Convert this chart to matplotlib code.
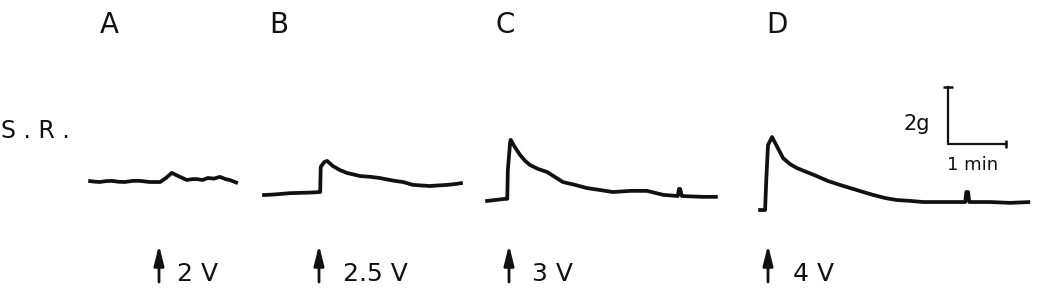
import matplotlib
matplotlib.use("Agg")
import matplotlib.pyplot as plt

# ---------------- data (time in min from stimulus, tension in g above pre-stimulus baseline)
panel_labels = ["A", "B", "C", "D"]
voltage_labels = ["2 V", "2.5 V", "3 V", "4 V"]

A_t = [-1.22, -1.10, -1.02, -0.92, -0.81, -0.70, -0.59, -0.45, -0.33, -0.16, 0.02, 0.12, 0.22, 0.33,
       0.48, 0.57, 0.66, 0.75, 0.84, 0.95, 1.05, 1.15, 1.22, 1.36]
A_g = [0.04, 0.01, 0.00, 0.03, 0.04, 0.01, 0.00, 0.04, 0.04, 0.00, 0.00, 0.14, 0.32, 0.21,
       0.07, 0.10, 0.10, 0.07, 0.14, 0.12, 0.18, 0.10, 0.07, -0.04]

B_t = [-0.98, -0.80, -0.67, -0.50, -0.33, -0.15, 0.02, 0.03, 0.09, 0.14, 0.24, 0.36, 0.48, 0.71,
       0.90, 1.05, 1.20, 1.31, 1.45, 1.62, 1.91, 2.05, 2.21, 2.35, 2.48]
B_g = [-0.04, -0.02, 0.00, 0.03, 0.04, 0.05, 0.07, 0.95, 1.12, 1.16, 0.98, 0.84, 0.74, 0.63,
       0.60, 0.56, 0.50, 0.46, 0.42, 0.32, 0.28, 0.30, 0.32, 0.35, 0.39]

C_t = [-0.41, -0.24, -0.07, -0.03, -0.02, 0.02, 0.03, 0.10, 0.19, 0.28, 0.36, 0.50, 0.66, 0.79,
       0.93, 1.14, 1.34, 1.57, 1.79, 2.09, 2.38, 2.66, 2.91, 2.93, 2.95, 2.98, 3.34, 3.60]
C_g = [-0.04, 0.00, 0.04, 0.04, 1.05, 2.04, 2.11, 1.86, 1.58, 1.37, 1.23, 1.09, 0.98, 0.81,
       0.63, 0.53, 0.42, 0.35, 0.28, 0.32, 0.32, 0.18, 0.14, 0.39, 0.39, 0.14, 0.11, 0.11]

D_t = [-0.17, -0.05, -0.03, 0.00, 0.07, 0.16, 0.26, 0.38, 0.50, 0.67, 0.84, 1.03, 1.24, 1.53,
       1.81, 2.02, 2.22, 2.45, 2.67, 3.05, 3.40, 3.42, 3.45, 3.47, 3.83, 4.17, 4.52]
D_g = [0.00, 0.00, 1.05, 2.28, 2.56, 2.21, 1.82, 1.61, 1.47, 1.33, 1.19, 1.02, 0.88, 0.70,
       0.53, 0.42, 0.35, 0.32, 0.28, 0.28, 0.28, 0.63, 0.63, 0.28, 0.28, 0.25, 0.28]

traces_t = [A_t, B_t, C_t, D_t]
traces_g = [A_g, B_g, C_g, D_g]

scale_g = 2.0      # calibration bar, grams
scale_min = 1.0    # calibration bar, minutes

# ---------------- layout (pixels of the 1037x288 canvas)
W, H = 1037, 288
PX_PER_MIN = 58.0
PX_PER_G = 28.5
panel_left = [60, 250, 478, 738]
panel_right = [250, 478, 738, 1037]
arrow_px = [159, 319, 509, 768]
base_px = [182, 194, 200, 210]
letter_px = [109, 279, 505, 777]
volt_offset_px = [18, 24, 23, 25]
scale_corner = (3.10, 2.32)  # in panel D data coordinates

INK = "#111111"
fig = plt.figure(figsize=(W / 100, H / 100), dpi=100)
fig.patch.set_facecolor("white")

axes = []
for i in range(4):
    L, R = panel_left[i], panel_right[i]
    ax = fig.add_axes([L / W, 0, (R - L) / W, 1])
    ax.set_xlim((L - arrow_px[i]) / PX_PER_MIN, (R - arrow_px[i]) / PX_PER_MIN)
    ax.set_ylim(-(H - base_px[i]) / PX_PER_G, base_px[i] / PX_PER_G)
    ax.axis("off")
    ax.plot(traces_t[i], traces_g[i], color=INK, lw=2.7, solid_joinstyle="round",
            solid_capstyle="butt")
    # stimulus arrow
    ax.annotate("", xy=(0, 1 - 245 / H), xytext=(0, 1 - 282 / H),
                xycoords=("data", "axes fraction"), textcoords=("data", "axes fraction"),
                arrowprops=dict(arrowstyle="-|>,head_length=1.2,head_width=0.3",
                                mutation_scale=10, lw=2.0, color=INK,
                                shrinkA=0, shrinkB=0))
    ax.annotate(voltage_labels[i], xy=(0, 1 - 281 / H), xycoords=("data", "axes fraction"),
                xytext=(volt_offset_px[i] * 0.72, 0), textcoords="offset points",
                ha="left", va="baseline", fontsize=18, color=INK)
    fig.text(letter_px[i] / W, 1 - 33 / H, panel_labels[i], ha="center", va="baseline",
             fontsize=20, color=INK)
    axes.append(ax)

# calibration bar in panel D
axD = axes[3]
x0, y0 = scale_corner
axD.plot([x0, x0, x0 + scale_min], [y0 + scale_g, y0, y0], color=INK, lw=1.6)
axD.plot([x0], [y0 + scale_g], marker="_", ms=7, mew=1.8, color=INK)
axD.plot([x0 + scale_min], [y0], marker="|", ms=6, mew=1.8, color=INK)
fig.text(930 / W, 1 - 130 / H, "2g", ha="right", va="baseline", fontsize=15, color=INK)
fig.text(973 / W, 1 - 170 / H, "1 min", ha="center", va="baseline", fontsize=13, color=INK)

fig.text(1 / W, 1 - 138 / H, "S . R .", ha="left", va="baseline", fontsize=17, color=INK)

fig.savefig("out.png", dpi=100, facecolor="white")
